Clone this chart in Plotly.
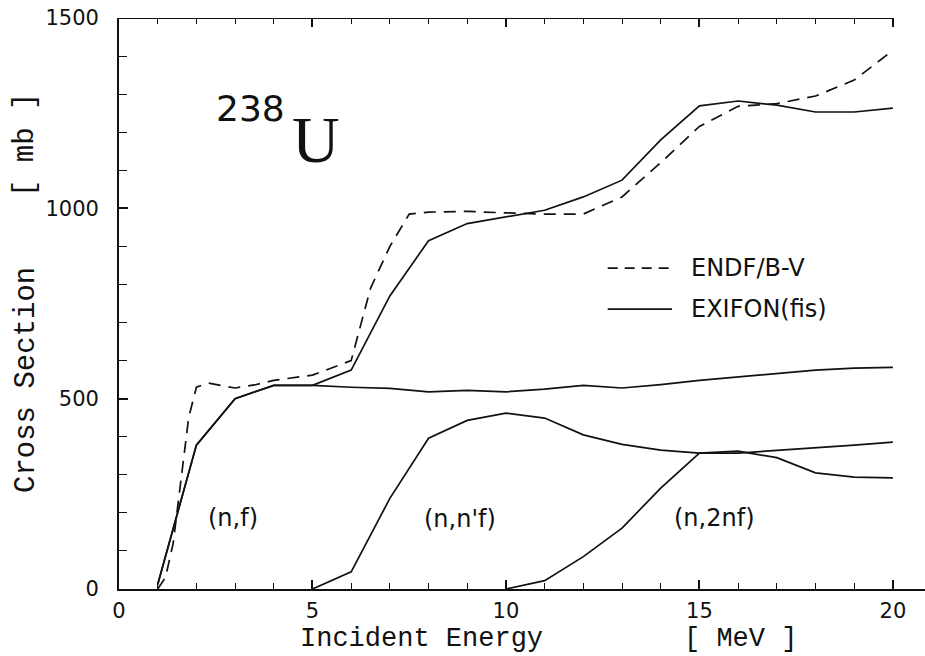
import plotly.graph_objects as go

# ---- data (energy in MeV, cross section in mb) ----
endf_x = [1.0, 1.2, 1.4, 1.6, 1.8, 2.0, 2.3, 3.0, 3.5, 4.0, 5.0, 6.0, 6.5, 7.0, 7.5,
          8.0, 9.0, 10.0, 11.0, 12.0, 13.0, 14.0, 15.0, 16.0, 17.0, 18.0, 19.0, 20.0]
endf_y = [0, 30, 120, 280, 450, 530, 541, 528, 536, 548, 562, 600, 790, 900, 985,
          990, 992, 988, 985, 985, 1030, 1120, 1215, 1268, 1275, 1295, 1337, 1415]

energy = [1, 2, 3, 4, 5, 6, 7, 8, 9, 10, 11, 12, 13, 14, 15, 16, 17, 18, 19, 20]
exifon_total = [12, 378, 500, 535, 535, 575, 770, 915, 960, 978, 995, 1030, 1074,
                1180, 1269, 1282, 1271, 1253, 1253, 1263]
nf = [12, 378, 500, 535, 535, 530, 527, 518, 522, 518, 525, 535, 528, 537, 548,
      557, 567, 575, 580, 582]

nnf_x = [5, 6, 7, 8, 9, 10, 11, 12, 13, 14, 15, 16, 17, 18, 19, 20]
nnf_y = [0, 45, 238, 396, 443, 462, 449, 405, 380, 365, 357, 357, 364, 370, 378, 386]

n2nf_x = [10, 11, 12, 13, 14, 15, 16, 17, 18, 19, 20]
n2nf_y = [0, 22, 85, 160, 265, 357, 362, 345, 305, 294, 292]

x_ticks = [0, 5, 10, 15, 20]
y_ticks = [0, 500, 1000, 1500]

BLACK = "#111111"
fig = go.Figure()

fig.add_trace(go.Scatter(x=endf_x, y=endf_y, mode="lines", name="ENDF/B-V",
                         line=dict(color=BLACK, width=1.7, dash="12px,8px")))
fig.add_trace(go.Scatter(x=energy, y=exifon_total, mode="lines", name="EXIFON(fis)",
                         line=dict(color=BLACK, width=1.7)))
fig.add_trace(go.Scatter(x=energy, y=nf, mode="lines", showlegend=False,
                         line=dict(color=BLACK, width=1.7)))
fig.add_trace(go.Scatter(x=nnf_x, y=nnf_y, mode="lines", showlegend=False,
                         line=dict(color=BLACK, width=1.7)))
fig.add_trace(go.Scatter(x=n2nf_x, y=n2nf_y, mode="lines", showlegend=False,
                         line=dict(color=BLACK, width=1.7)))

XMAX = 20.83
tickfont = dict(family="DejaVu Sans", size=21, color=BLACK)

fig.update_layout(
    width=925, height=656,
    margin=dict(l=119, r=0, t=18, b=67),
    paper_bgcolor="white", plot_bgcolor="white",
    showlegend=False,
    xaxis=dict(range=[0, XMAX], tickvals=x_ticks, ticks="inside", ticklen=9,
               tickwidth=1.5, tickcolor=BLACK, showline=True, linecolor=BLACK,
               linewidth=1.8, showgrid=False, zeroline=False, tickfont=tickfont,
               ticklabelstandoff=2,
               minor=dict(dtick=1, tick0=0, ticks="inside", ticklen=6,
                          tickwidth=1.3, tickcolor=BLACK, showgrid=False)),
    xaxis2=dict(range=[0, XMAX], overlaying="x", side="top", tickvals=x_ticks,
                ticks="inside", ticklen=9, tickwidth=1.5, tickcolor=BLACK,
                showticklabels=False, showline=False, showgrid=False, zeroline=False,
                minor=dict(dtick=1, tick0=0, ticks="inside", ticklen=6,
                           tickwidth=1.3, tickcolor=BLACK, showgrid=False)),
    yaxis=dict(range=[0, 1500], tickvals=y_ticks, ticks="inside", ticklen=9,
               tickwidth=1.5, tickcolor=BLACK, showline=True, linecolor=BLACK,
               linewidth=1.8, showgrid=False, zeroline=False, tickfont=tickfont,
               ticklabelstandoff=14,
               minor=dict(dtick=100, tick0=0, ticks="inside", ticklen=8,
                          tickwidth=1.3, tickcolor=BLACK, showgrid=False)),
)

# invisible trace to activate the top axis
fig.add_trace(go.Scatter(x=[0], y=[0], xaxis="x2", mode="markers",
                         marker=dict(opacity=0), showlegend=False, hoverinfo="skip"))

# top frame line (ends at 20 as in the reference)
fig.add_shape(type="line", xref="x", yref="y", x0=0, x1=20, y0=1500, y1=1500,
              line=dict(color=BLACK, width=1.8))

# legend drawn by hand
fig.add_shape(type="line", xref="x", yref="y", x0=12.63, x1=14.29, y0=843, y1=843,
              line=dict(color=BLACK, width=1.7, dash="10px,7px"))
fig.add_shape(type="line", xref="x", yref="y", x0=12.63, x1=14.29, y0=735, y1=735,
              line=dict(color=BLACK, width=1.7))

lab = dict(family="DejaVu Sans", size=24, color=BLACK)
mono = dict(family="Liberation Mono", size=29, color=BLACK)
xmono = dict(family="Liberation Mono", size=27, color=BLACK)
annos = [
    dict(x=14.75, y=843, text="ENDF/B-V", xanchor="left", font=lab),
    dict(x=14.75, y=735, text="EXIFON(fis)", xanchor="left", font=lab),
    dict(x=2.95, y=186, text="(n,f)", font=lab),
    dict(x=8.8, y=184, text="(n,n'f)", font=lab),
    dict(x=15.4, y=186, text="(n,2nf)", font=lab),
    dict(x=3.41, y=1262, text="238", font=dict(family="DejaVu Sans", size=36, color=BLACK)),
    dict(x=5.09, y=1180, text="U", font=dict(family="Liberation Serif", size=66, color=BLACK)),
    dict(xref="paper", yref="paper", x=-0.1154, y=0.366, text="Cross Section",
         textangle=-90, font=mono),
    dict(xref="paper", yref="paper", x=-0.1154, y=0.7776, text="[ mb ]",
         textangle=-90, font=mono),
    dict(xref="paper", yref="paper", x=0.3747, y=-0.1156, yanchor="bottom",
         text="Incident Energy", font=xmono),
    dict(xref="paper", yref="paper", x=0.7717, y=-0.1156, yanchor="bottom",
         text="[ MeV ]", font=xmono),
]
for a in annos:
    a.setdefault("xref", "x")
    a.setdefault("yref", "y")
    a.setdefault("xanchor", "center")
    a.setdefault("yanchor", "middle")
    a["showarrow"] = False
    a["borderpad"] = 0
    fig.add_annotation(**a)

fig.write_html("out.html")
